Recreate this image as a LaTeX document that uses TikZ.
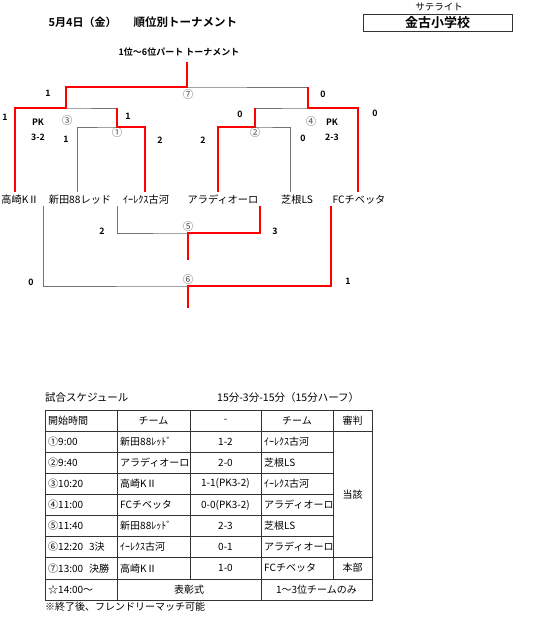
\documentclass[tikz,border=0pt]{standalone}
\usepackage{fontspec}
\setmainfont{Noto Sans CJK JP}[BoldFont={Noto Sans CJK JP Bold}]
\usepackage{tikz}
\usepackage{xcolor}
\tikzset{
  lose/.style={draw=black!55, line width=0.8pt},
  win/.style={draw=red, line width=2.8pt},
  team/.style={font=\fontsize{10.2}{11}\selectfont, inner sep=0pt},
  score/.style={font=\bfseries\fontsize{8.8}{9}\selectfont, inner sep=0pt},
  num/.style={font=\fontsize{10.5}{11}\selectfont, text=black!70, inner sep=0pt},
  cell/.style={font=\fontsize{10}{10}\selectfont, inner sep=0pt},
  grid/.style={draw=black!80, line width=0.6pt}
}
\newcommand{\schedrow}[5]{
\begin{scope}[yshift=-#1*21.1pt]
    \node[cell, anchor=west] (r#1a) at (48,420.5) {#2};
    \node[cell, anchor=west] (r#1b) at (120,420.5) {#3};
    \node[cell] (r#1c) at (225.5,420.5) {#4};
    \node[cell, anchor=west] (r#1d) at (264,420.5) {#5};
\end{scope}
}

\begin{document}
\begin{tikzpicture}[x=1pt, y=-1pt]
    \useasboundingbox (0,0) rectangle (550,622);

    % heading
    \node[font=\bfseries\fontsize{11}{12}\selectfont, anchor=west] (date) at (45,22) {5月4日（金）};
    \node[font=\bfseries\fontsize{11.5}{12}\selectfont, anchor=west] (title) at (130,22) {順位別トーナメント};
    \node[font=\fontsize{9.5}{10}\selectfont] (sat) at (439,7) {サテライト};
    \node[draw=black!80, line width=0.8pt, minimum width=149pt, minimum height=17pt, inner sep=0pt,
          font=\bfseries\fontsize{13}{14}\selectfont] (venue) at (437.5,22.5) {金古小学校};
    \node[font=\bfseries\fontsize{9}{10}\selectfont] (part) at (179,52) {1位～6位パート トーナメント};

    % teams
    \node[team] (t1) at (20,200) {高崎KⅡ};
    \node[team] (t2) at (80,200) {新田88レッド};
    \node[team] (t3) at (146,200) {ｲｰﾚｸｽ古河};
    \node[team] (t4) at (223,200) {アラディオーロ};
    \node[team] (t5) at (297,200) {芝根LS};
    \node[team] (t6) at (359,200) {FCチベッタ};

    % line ends under / above the names
    \coordinate (a3) at (15,192);
    \coordinate (a1) at (77,192);
    \coordinate (b1) at (145,192);
    \coordinate (a2) at (218,192);
    \coordinate (b2) at (290,192);
    \coordinate (b4) at (358,192);
    \coordinate (c1) at (43,206);
    \coordinate (c3) at (117,206);
    \coordinate (c4) at (260,206);
    \coordinate (c6) at (331,206);

    % joints
    \coordinate (j1) at (117,127);
    \coordinate (j2) at (255,127);
    \coordinate (j3) at (66,108);
    \coordinate (j4) at (308,108);
    \coordinate (j7) at (187,87);
    \coordinate (top) at (187,62);
    \coordinate (j5) at (188,233);
    \coordinate (e5) at (188,260);
    \coordinate (j6) at (188,286);
    \coordinate (e6) at (188,308);

    % bracket lines
    \draw[lose] (a1) |- (j1) -| (b1);
    \draw[lose] (a2) |- (j2) -| (b2);
    \draw[lose] (a3) |- (j3) -| (j1);
    \draw[lose] (j2) |- (j4) -| (b4);
    \draw[lose] (j3) |- (j7) -| (j4);
    \draw[lose] (c3) |- (j5) -| (c4);
    \draw[lose] (c1) |- (j6) -| (c6);

    \draw[win] (b1) |- (j1) -- (j1 |- j3);
    \draw[win] (a2) |- (j2) -- (j2 |- j4);
    \draw[win] (a3) |- (j3) -- (j3 |- j7);
    \draw[win] (b4) |- (j4) -- (j4 |- j7);
    \draw[win] (j3) |- (j7) -- (top);
    \draw[win] (c4) |- (j5) -- (e5);
    \draw[win] (c6) |- (j6) -- (e6);

    % match numbers
    \node[num] (n1) at (117,133) {①};
    \node[num] (n2) at (255,133) {②};
    \node[num] (n3) at (67,121) {③};
    \node[num] (n4) at (311,122) {④};
    \node[num] (n5) at (188,227) {⑤};
    \node[num] (n6) at (188,280) {⑥};
    \node[num] (n7) at (188,95) {⑦};

    % scores
    \foreach \x/\y/\s in {48/93/1, 5/117/1, 38/122/PK, 38/137/3-2, 66/139/1, 128/116/1,
        160/140/2, 203/140/2, 240/114/0, 323/94/0, 375/113/0, 332/122/PK, 332/137/2-3,
        303/138/0, 102/231/2, 275/231/3, 31/282/0, 348/281/1}
        \node[score] (s-\x-\y) at (\x,\y) {\s};

    % schedule
    \node[cell, font=\fontsize{10.5}{11}\selectfont, anchor=west] (sched) at (45,398) {試合スケジュール};
    \node[cell, font=\fontsize{10.5}{11}\selectfont, anchor=west] (rule) at (217,398) {15分-3分-15分（15分ハーフ）};

    \draw[grid] (45,410) rectangle (372,600);
    \draw[grid] (45,431.1) -- (372,431.1);
    \foreach \n in {2,...,6} \draw[grid] (45,410+21.1*\n) -- (333,410+21.1*\n);
    \draw[grid] (45,557.7) -- (372,557.7);
    \draw[grid] (45,578.8) -- (372,578.8);
    \draw[grid] (117,410) -- (117,600);
    \draw[grid] (190,410) -- (190,578.8);
    \draw[grid] (261,410) -- (261,600);
    \draw[grid] (333,410) -- (333,578.8);

    \node[cell, anchor=west] (h1) at (48,420.5) {開始時間};
    \node[cell] (h2) at (153.5,420.5) {チーム};
    \node[cell] (h3) at (225.5,420.5) {-};
    \node[cell] (h4) at (297,420.5) {チーム};
    \node[cell] (h5) at (352.5,420.5) {審判};

    \schedrow{1}{①9:00}{新田88ﾚｯﾄﾞ}{1-2}{ｲｰﾚｸｽ古河}
    \schedrow{2}{②9:40}{アラディオーロ}{2-0}{芝根LS}
    \schedrow{3}{③10:20}{高崎KⅡ}{1-1(PK3-2)}{ｲｰﾚｸｽ古河}
    \schedrow{4}{④11:00}{FCチベッタ}{0-0(PK3-2)}{アラディオーロ}
    \schedrow{5}{⑤11:40}{新田88ﾚｯﾄﾞ}{2-3}{芝根LS}
    \schedrow{6}{⑥12:20\hspace{0.6em}3決}{ｲｰﾚｸｽ古河}{0-1}{アラディオーロ}
    \schedrow{7}{⑦13:00\hspace{0.6em}決勝}{高崎KⅡ}{1-0}{FCチベッタ}

    \node[cell] (ref1) at (352.5,494.4) {当該};
    \node[cell] (ref2) at (352.5,568.2) {本部};
    \node[cell, anchor=west] (r8a) at (48,589.3) {☆14:00～};
    \node[cell] (r8b) at (189,589.3) {表彰式};
    \node[cell] (r8c) at (316.5,589.3) {1～3位チームのみ};
    \node[cell, anchor=west] (note) at (45,607) {※終了後、フレンドリーマッチ可能};
\end{tikzpicture}
\end{document}
